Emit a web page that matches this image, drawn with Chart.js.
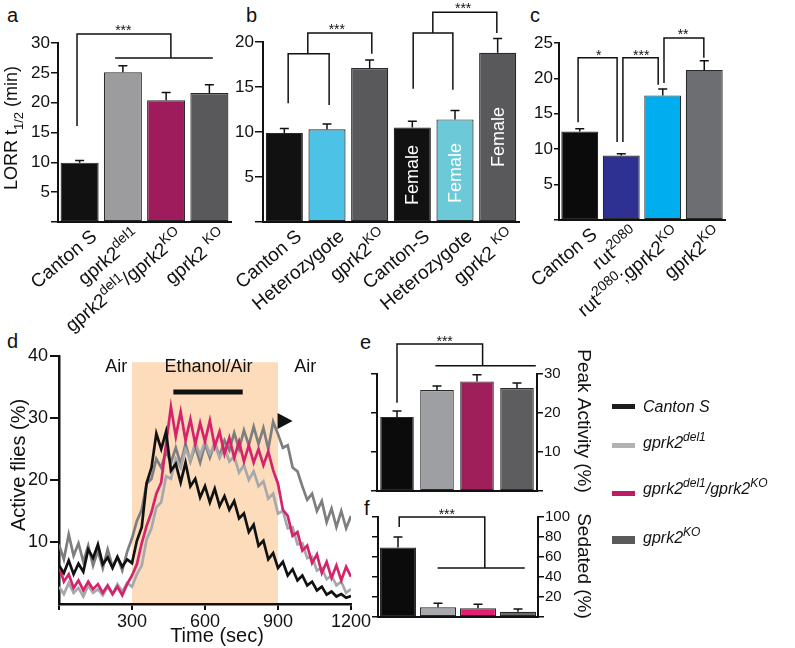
<!DOCTYPE html>
<html>
<head>
<meta charset="utf-8">
<title>gprk2 ethanol sensitivity</title>
<script src="https://cdn.jsdelivr.net/npm/chart.js@4/dist/chart.umd.min.js"></script>
<style>
  body { margin: 0; width: 795px; height: 648px; position: relative; overflow: hidden; background: #fff;
         font-family: "Liberation Sans", Arial, sans-serif; color: #111; }
  canvas { position: absolute; }
  .panel { position: absolute; font-size: 20px; line-height: 20px; }
  .key { position: absolute; left: 643px; font-size: 16px; line-height: 16px; font-style: italic; white-space: nowrap; }
  .key sup { font-size: 12px; line-height: 0; vertical-align: 7px; }
  .swatch { position: absolute; left: 612px; width: 23px; }
</style>
</head>
<body>
<div class="panel" style="left:7px;top:5px">a</div>
<div class="panel" style="left:246px;top:5px">b</div>
<div class="panel" style="left:530px;top:5px">c</div>
<div class="panel" style="left:7px;top:331px">d</div>
<div class="panel" style="left:360px;top:332px">e</div>
<div class="panel" style="left:364px;top:498px">f</div>
<canvas id="chartA"></canvas>
<canvas id="chartB"></canvas>
<canvas id="chartC"></canvas>
<canvas id="chartD"></canvas>
<canvas id="chartE"></canvas>
<canvas id="chartF"></canvas>
<div id="legend"></div>
<script>
// ---- data ----
// a: LORR t1/2 (min)
const strainsA = ['Canton S', 'gprk2^{del1}', 'gprk2^{del1}/gprk2^{KO}', 'gprk2 ^{KO}'];
const lorrA = [9.95, 25.1, 20.4, 21.6];
const lorrErrA = [0.35, 1.1, 1.3, 1.4];

// b: heterozygotes and females
const strainsB = ['Canton S', 'Heterozygote', 'gprk2^{KO}', 'Canton-S', 'Heterozygote', 'gprk2 ^{KO}'];
const lorrB = [9.9, 10.3, 17.1, 10.5, 11.4, 18.8];
const lorrErrB = [0.5, 0.6, 0.9, 0.7, 1.0, 1.6];

// c: rutabaga
const strainsC = ['Canton S', 'rut^{2080}', 'rut^{2080};gprk2^{KO}', 'gprk2^{KO}'];
const lorrC = [12.5, 9.1, 17.6, 21.2];
const lorrErrC = [0.4, 0.25, 0.9, 1.3];

// d: active flies (%) over time (sec)
const timeSec = [0, 20, 40, 60, 80, 100, 120, 140, 160, 180, 200, 220, 240, 260, 280, 300, 320, 340, 360, 380,
  400, 420, 440, 460, 480, 500, 520, 540, 560, 580, 600, 620, 640, 660, 680, 700, 720, 740, 760, 780,
  800, 820, 840, 860, 880, 900, 920, 940, 960, 980, 1000, 1020, 1040, 1060, 1080, 1100, 1120, 1140, 1160, 1180, 1200];
const activeCanton = [6.2, 5.0, 7.0, 4.8, 6.5, 5.2, 8.8, 7.4, 9.6, 6.4, 7.5, 5.8, 7.6, 6.0, 7.2, 6.6, 10.2, 12.4, 19.5, 22.0,
  27.5, 25.0, 27.8, 21.5, 22.6, 19.6, 22.8, 19.0, 20.2, 17.2, 19.0, 16.4, 18.6, 15.8, 17.4, 15.2, 16.6, 13.8, 14.6, 11.6,
  12.8, 9.4, 10.2, 7.2, 8.2, 5.8, 6.8, 4.6, 5.6, 3.8, 4.6, 3.0, 3.6, 2.2, 2.8, 1.5, 2.0, 1.2, 1.6, 1.0, 1.3];
const activeDel1 = [2.8, 1.6, 3.4, 1.8, 2.6, 1.2, 3.0, 1.8, 2.4, 1.4, 2.8, 1.6, 3.2, 2.0, 3.4, 2.8, 4.8, 6.2, 10.4, 12.2,
  15.6, 16.4, 20.6, 20.2, 23.4, 22.0, 25.0, 23.2, 26.0, 24.0, 26.2, 24.2, 25.8, 23.6, 25.2, 23.0, 23.8, 21.2, 22.4, 20.0,
  21.4, 19.0, 19.8, 17.0, 17.8, 14.6, 15.0, 12.2, 12.4, 9.6, 9.8, 7.4, 7.6, 5.4, 5.8, 4.0, 4.6, 3.0, 3.6, 1.8, 2.4];
const activeDel1KO = [6.2, 3.6, 4.8, 2.6, 3.8, 2.2, 3.6, 2.4, 3.2, 1.8, 3.0, 1.6, 2.8, 1.4, 3.2, 4.6, 6.4, 9.8, 12.6, 14.8,
  17.8, 19.6, 25.8, 31.8, 27.0, 31.0, 26.4, 29.8, 25.8, 29.2, 26.2, 29.6, 25.4, 27.8, 24.2, 26.8, 23.6, 26.2, 23.0, 25.6,
  22.8, 25.0, 22.4, 24.6, 21.6, 19.4, 15.2, 14.2, 11.0, 11.6, 8.6, 9.4, 6.6, 8.0, 5.0, 6.8, 4.2, 6.2, 3.8, 6.0, 4.4];
const activeKO = [9.6, 7.2, 11.2, 7.8, 9.8, 6.8, 9.4, 6.2, 8.6, 5.8, 8.8, 6.0, 7.6, 5.4, 8.4, 10.6, 13.4, 15.2, 19.4, 20.2,
  23.4, 22.0, 24.6, 22.8, 25.2, 22.6, 25.8, 23.0, 25.4, 22.8, 25.8, 23.6, 26.0, 23.8, 26.4, 24.8, 27.6, 25.0, 28.0, 25.6,
  28.6, 25.8, 28.4, 25.0, 29.4, 27.4, 25.2, 25.6, 22.0, 21.4, 19.0, 16.8, 17.8, 15.0, 16.6, 13.2, 15.4, 12.4, 15.0, 12.2, 14.2];

// e, f: peak activity and sedation (%)
const strainsEF = ['Canton S', 'gprk2^{del1}', 'gprk2^{del1}/gprk2^{KO}', 'gprk2^{KO}'];
const peakActivity = [19.0, 25.9, 28.1, 26.4];
const peakErr = [1.5, 1.0, 1.7, 1.3];
const sedated = [69.5, 9.7, 8.7, 5.3];
const sedatedErr = [10.5, 4.0, 4.0, 2.7];

// ---- helpers ----
const FONT = '"Liberation Sans", Arial, Helvetica, sans-serif';
Chart.defaults.font.family = FONT;
Chart.defaults.color = '#111';
const INK = '#111';

function richParts(s) {
  return s.split(/(\^\{[^}]*\}|_\{[^}]*\})/).filter(Boolean).map(p =>
    p[0] === '^' && p[1] === '{' ? { t: p.slice(2, -1), k: 1 } :
    p[0] === '_' && p[1] === '{' ? { t: p.slice(2, -1), k: -1 } : { t: p, k: 0 });
}

// draw text with ^{sup} and _{sub} parts, y is the baseline
function drawRich(ctx, s, x, y, size, align, style) {
  const parts = richParts(s);
  const small = Math.round(size * 0.72);
  const fontOf = k => (style ? style + ' ' : '') + (k ? small : size) + 'px ' + FONT;
  let w = 0;
  parts.forEach(p => { ctx.font = fontOf(p.k); p.w = ctx.measureText(p.t).width; w += p.w; });
  let cx = align === 'right' ? x - w : align === 'center' ? x - w / 2 : x;
  ctx.textAlign = 'left';
  ctx.textBaseline = 'alphabetic';
  parts.forEach(p => {
    ctx.font = fontOf(p.k);
    const dy = p.k > 0 ? -size * 0.42 : p.k < 0 ? size * 0.28 : 0;
    ctx.fillText(p.t, cx, y + dy);
    cx += p.w;
  });
}

function pageText(ctx, box, s, px, py, rot, size) {
  ctx.save();
  ctx.translate(px - box.x, py - box.y);
  ctx.rotate(rot);
  ctx.fillStyle = INK;
  drawRich(ctx, s, 0, size * 0.36, size, 'center');
  ctx.restore();
}

function decor(box, spec) {
  const run = (chart, fn) => {
    if (!fn) return;
    const xs = chart.scales.x, ys = chart.scales.y;
    const ctx = chart.ctx;
    ctx.save();
    fn(ctx, v => xs.getPixelForValue(v), v => ys.getPixelForValue(v), chart);
    ctx.restore();
  };
  return {
    id: 'decor',
    beforeDraw(chart) { run(chart, spec.before); },
    afterDraw(chart) { run(chart, spec.after); }
  };
}

function mount(id, box, cfg) {
  const cv = document.getElementById(id);
  cv.width = box.w; cv.height = box.h;
  cv.style.left = box.x + 'px'; cv.style.top = box.y + 'px';
  cfg.options = Object.assign({
    responsive: false, animation: false, events: [],
    plugins: { legend: { display: false }, tooltip: { enabled: false } }
  }, cfg.options);
  return new Chart(cv, cfg);
}

function barPanel(id, box, area, o) {
  const yBase = {
    type: 'linear', min: 0, max: o.max,
    ticks: { stepSize: o.step, autoSkip: false, padding: 1, font: { size: o.tickSize || 17 }, color: INK,
             callback: v => v === 0 ? '' : v },
    grid: { drawOnChartArea: false, tickLength: o.tickLen || 6, color: INK, lineWidth: 1.5 },
    border: { color: INK, width: 2 }
  };
  const scales = {
    x: { offset: true, grid: { display: false }, ticks: { display: false }, border: { color: INK, width: 2 },
         afterFit: s => { s.height = box.y + box.h - area.bottom; } }
  };
  let padRight = box.x + box.w - area.right;
  if (o.rightAxis) {
    const rw = padRight;
    scales.yl = Object.assign({}, yBase, { position: 'left', ticks: { display: false, stepSize: o.step, autoSkip: false },
      afterFit: s => { s.width = area.left - box.x; } });
    scales.y = Object.assign({}, yBase, { position: 'right', afterFit: s => { s.width = rw; } });
    padRight = 0;
  } else {
    scales.y = Object.assign({}, yBase, { position: 'left', afterFit: s => { s.width = area.left - box.x; } });
  }

  const after = (ctx, X, Y, chart) => {
    ctx.strokeStyle = INK; ctx.fillStyle = INK; ctx.lineWidth = 1.5;
    // error bars (upper only)
    o.values.forEach((v, i) => {
      const x = X(i), y0 = Y(v), y1 = Y(v + o.errors[i]);
      ctx.beginPath();
      ctx.moveTo(x, y0); ctx.lineTo(x, y1);
      ctx.moveTo(x - 4.5, y1); ctx.lineTo(x + 4.5, y1);
      ctx.stroke();
    });
    // significance brackets
    (o.brackets || []).forEach(path => {
      ctx.beginPath();
      path.forEach(([i, v], k) => k ? ctx.lineTo(X(i), Y(v)) : ctx.moveTo(X(i), Y(v)));
      ctx.stroke();
    });
    ctx.font = '14px ' + FONT; ctx.textAlign = 'center'; ctx.textBaseline = 'alphabetic';
    (o.stars || []).forEach(([i, v, s]) => ctx.fillText(s, X(i), Y(v) + 8));
    // rotated category labels
    if (o.xLabels) {
      const bottom = chart.chartArea.bottom;
      o.labels.forEach((lab, i) => {
        ctx.save();
        ctx.translate(X(i) + 14, bottom + 11);
        ctx.rotate(-40 * Math.PI / 180);
        drawRich(ctx, lab, 0, 19 * 0.36, 19, 'right');
        ctx.restore();
      });
    }
    if (o.extra) o.extra(ctx, X, Y, chart);
  };

  return mount(id, box, {
    type: 'bar',
    data: { labels: o.labels, datasets: [{
      data: o.values, yAxisID: 'y', backgroundColor: o.colors, borderColor: '#2a2a2a', borderWidth: 1.2,
      borderSkipped: false, barPercentage: o.barPct, categoryPercentage: 1 }] },
    options: { layout: { padding: { left: 0, top: area.top - box.y, right: padRight, bottom: 0 } }, scales },
    plugins: [decor(box, { after })]
  });
}

// ---- panel a ----
const boxA = { x: 0, y: 0, w: 250, h: 335 };
barPanel('chartA', boxA, { left: 58, right: 231, top: 43, bottom: 222 }, {
  labels: strainsA, values: lorrA, errors: lorrErrA,
  colors: ['#111111', '#9c9c9f', '#9e1c5b', '#59595b'],
  max: 30, step: 5, barPct: 0.88, tickLen: 7, xLabels: true,
  brackets: [[[-0.06, 16.1], [-0.06, 31.5], [2.11, 31.5], [2.11, 27.5]], [[0.82, 27.5], [3.08, 27.5]]],
  stars: [[1.01, 32.7, '***']],
  extra: ctx => pageText(ctx, boxA, 'LORR t_{1/2} (min)', 11, 128, -Math.PI / 2, 18)
});

// ---- panel b ----
const boxB = { x: 200, y: 0, w: 330, h: 335 };
barPanel('chartB', boxB, { left: 263, right: 519, top: 42, bottom: 222 }, {
  labels: strainsB, values: lorrB, errors: lorrErrB,
  colors: ['#111111', '#4cc3e6', '#59595b', '#111111', '#6cc9d7', '#59595b'],
  max: 20, step: 5, barPct: 0.87, tickLen: 8, xLabels: true,
  brackets: [
    [[0.09, 13.2], [0.09, 18.7], [1.05, 18.7], [1.05, 13.0]],
    [[0.55, 18.7], [0.55, 21.0], [2.05, 21.0], [2.05, 18.7]],
    [[3.02, 14.8], [3.02, 21.0], [3.95, 21.0], [3.95, 14.7]],
    [[3.48, 21.0], [3.48, 23.3], [4.98, 23.3], [4.98, 21.0]]
  ],
  stars: [[1.23, 21.8, '***'], [4.19, 24.1, '***']],
  extra: (ctx, X, Y) => {
    ctx.fillStyle = '#fff';
    ctx.font = '18px ' + FONT; ctx.textAlign = 'left'; ctx.textBaseline = 'middle';
    [[3, 1.9], [4, 2.1], [5, 6.1]].forEach(([i, v]) => {
      ctx.save();
      ctx.translate(X(i) + 1, Y(v));
      ctx.rotate(-Math.PI / 2);
      ctx.fillText('Female', 0, 0);
      ctx.restore();
    });
  }
});

// ---- panel c ----
const boxC = { x: 520, y: 0, w: 275, h: 335 };
barPanel('chartC', boxC, { left: 559, right: 725, top: 43, bottom: 220 }, {
  labels: strainsC, values: lorrC, errors: lorrErrC,
  colors: ['#0b0b0b', '#2e3192', '#00aeef', '#6d6e71'],
  max: 25, step: 5, barPct: 0.89, tickLen: 5, xLabels: true,
  brackets: [
    [[-0.04, 13.8], [-0.04, 22.9], [0.9, 22.9], [0.9, 11.0]],
    [[1.04, 11.0], [1.04, 22.9], [1.89, 22.9], [1.89, 19.1]],
    [[2.03, 19.35], [2.03, 25.7], [2.99, 25.7], [2.99, 22.9]]
  ],
  stars: [[0.46, 23.7, '*'], [1.48, 23.7, '***'], [2.49, 26.7, '**']]
});

// ---- panel d ----
const boxD = { x: 0, y: 325, w: 375, h: 323 };
const areaD = { left: 59, right: 351, top: 356, bottom: 604 };
const series = [
  { label: 'Canton S', values: activeCanton, color: '#111111', order: 0 },
  { label: 'gprk2del1', values: activeDel1, color: '#a6a8ab', order: 2 },
  { label: 'gprk2del1/gprk2KO', values: activeDel1KO, color: '#d4246c', order: 1 },
  { label: 'gprk2KO', values: activeKO, color: '#7e7e80', order: 3 }
];
mount('chartD', boxD, {
  type: 'line',
  data: {
    datasets: series.map(s => ({
      label: s.label, order: s.order, borderColor: s.color, borderWidth: 2.7, pointRadius: 0, tension: 0,
      data: timeSec.map((t, i) => ({ x: t, y: s.values[i] }))
    }))
  },
  options: {
    layout: { padding: { left: 0, top: areaD.top - boxD.y, right: boxD.x + boxD.w - areaD.right, bottom: 0 } },
    scales: {
      x: { type: 'linear', min: 0, max: 1200,
           ticks: { stepSize: 300, maxRotation: 0, autoSkip: false, padding: 1, font: { size: 18 }, color: INK,
                    callback: v => v === 0 ? '' : v },
           grid: { drawOnChartArea: false, tickLength: 6, color: INK, lineWidth: 2 },
           border: { color: INK, width: 2.5 },
           afterFit: s => { s.height = boxD.y + boxD.h - areaD.bottom; } },
      y: { type: 'linear', min: 0, max: 40,
           ticks: { stepSize: 10, autoSkip: false, padding: 2, font: { size: 18 }, color: INK, callback: v => v === 0 ? '' : v },
           grid: { drawOnChartArea: false, tickLength: 9, lineWidth: 2,
                   color: c => c.tick && c.tick.value === 0 ? 'rgba(0,0,0,0)' : INK },
           border: { color: INK, width: 2.5 },
           afterFit: s => { s.width = areaD.left - boxD.x; } }
    }
  },
  plugins: [decor(boxD, {
    before: (ctx, X, Y) => {
      // ethanol exposure window
      ctx.fillStyle = '#fddcbc';
      ctx.fillRect(X(300), Y(39), X(900) - X(300), Y(0) - Y(39));
    },
    after: (ctx, X, Y) => {
      ctx.strokeStyle = INK; ctx.lineWidth = 5;
      ctx.beginPath(); ctx.moveTo(X(470), Y(34.2)); ctx.lineTo(X(755), Y(34.2)); ctx.stroke();
      const tx = X(929), ty = Y(29.5);
      ctx.fillStyle = INK;
      ctx.beginPath(); ctx.moveTo(tx + 7.5, ty); ctx.lineTo(tx - 7.5, ty - 8); ctx.lineTo(tx - 7.5, ty + 8); ctx.closePath(); ctx.fill();
      ctx.font = '18px ' + FONT; ctx.textAlign = 'center'; ctx.textBaseline = 'middle';
      ctx.fillText('Air', X(235), Y(38.2));
      ctx.fillText('Ethanol/Air', X(614), Y(38.2));
      ctx.fillText('Air', X(1012), Y(38.2));
      pageText(ctx, boxD, 'Active flies (%)', 18, 465, -Math.PI / 2, 20);
      pageText(ctx, boxD, 'Time (sec)', 217, 635, 0, 20);
    }
  })]
});

// ---- panel e ----
const boxE = { x: 330, y: 325, w: 290, h: 180 };
barPanel('chartE', boxE, { left: 377, right: 537, top: 374, bottom: 491 }, {
  labels: strainsEF, values: peakActivity, errors: peakErr,
  colors: ['#0b0b0b', '#9d9fa2', '#9e1f5a', '#5d5d5f'],
  max: 30, step: 10, barPct: 0.84, tickSize: 15, rightAxis: true,
  brackets: [[[0, 22.6], [0, 37.7], [2.14, 37.7], [2.14, 32.1]], [[0.96, 32.1], [3.47, 32.1]]],
  stars: [[1.19, 39.2, '***']],
  extra: ctx => pageText(ctx, boxE, 'Peak Activity (%)', 585, 421, Math.PI / 2, 19)
});

// ---- panel f ----
const boxF = { x: 330, y: 495, w: 290, h: 153 };
barPanel('chartF', boxF, { left: 378, right: 538, top: 517, bottom: 617 }, {
  labels: strainsEF, values: sedated, errors: sedatedErr,
  colors: ['#0b0b0b', '#a7a9ac', '#e0206f', '#6b6b6d'],
  max: 100, step: 20, barPct: 0.9, tickSize: 15, rightAxis: true,
  brackets: [[[0.03, 90], [0.03, 100], [2.17, 100], [2.17, 49]], [[0.99, 49], [3.17, 49]]],
  stars: [[1.22, 106, '***']],
  extra: ctx => pageText(ctx, boxF, 'Sedated (%)', 585, 566, Math.PI / 2, 19)
});

// ---- legend for d ----
const legendColors = ['#1c1c1c', '#b1b2b5', '#c01a60', '#5a5a5c'];
const legendRows = [{ text: 399, sw: 404, h: 5 }, { text: 435, sw: 443, h: 5 }, { text: 481, sw: 491, h: 5 }, { text: 530, sw: 536, h: 8 }];
const legend = document.getElementById('legend');
strainsEF.forEach((s, i) => {
  const sw = document.createElement('div');
  sw.className = 'swatch';
  sw.style.top = legendRows[i].sw + 'px';
  sw.style.height = legendRows[i].h + 'px';
  sw.style.background = legendColors[i];
  legend.appendChild(sw);
  const t = document.createElement('div');
  t.className = 'key';
  t.style.top = legendRows[i].text + 'px';
  t.innerHTML = s.replace(/\^\{([^}]*)\}/g, '<sup>$1</sup>');
  legend.appendChild(t);
});
</script>
</body>
</html>
